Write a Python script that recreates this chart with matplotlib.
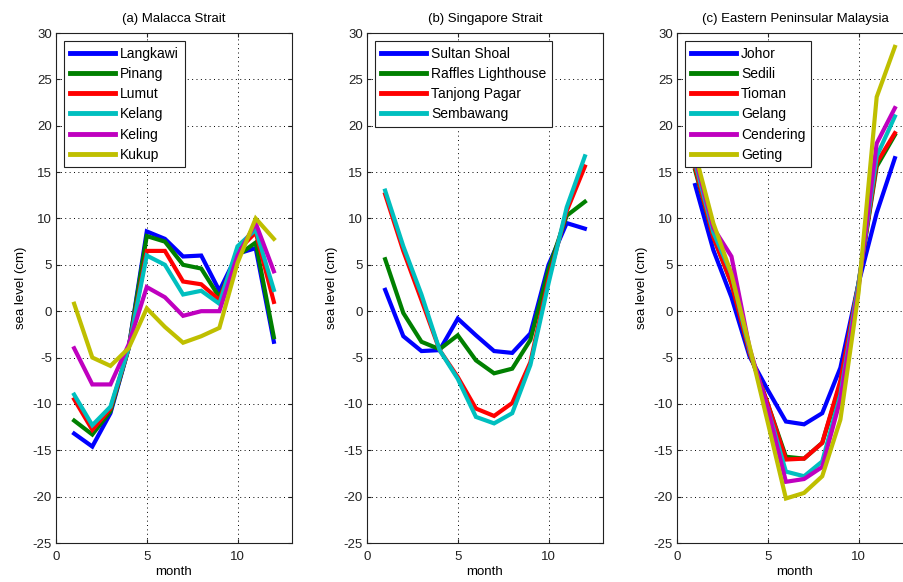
import matplotlib
matplotlib.use("Agg")
import matplotlib.pyplot as plt
import numpy as np

plt.rcParams['font.family'] = ['Liberation Sans', 'DejaVu Sans']
plt.rcParams['axes.unicode_minus'] = False

months = list(range(1, 13))

# (a) Malacca Strait
a_names = ["Langkawi", "Pinang", "Lumut", "Kelang", "Keling", "Kukup"]
langkawi = [-13.2, -14.6, -11.0, -4.0, 8.6, 7.8, 5.9, 6.0, 2.2, 6.2, 6.8, -3.3]
pinang   = [-11.8, -13.3, -10.8, -4.0, 8.1, 7.5, 5.0, 4.6, 1.5, 6.0, 7.4, -2.8]
lumut    = [-9.5, -12.8, -10.5, -4.0, 6.5, 6.5, 3.2, 2.9, 1.2, 6.5, 8.5, 1.0]
kelang   = [-9.0, -12.3, -10.3, -4.0, 6.0, 5.0, 1.8, 2.2, 0.8, 7.0, 8.8, 2.3]
keling   = [-4.0, -7.9, -7.9, -3.6, 2.6, 1.5, -0.5, 0.0, 0.0, 6.0, 9.5, 4.3]
kukup    = [0.8, -5.0, -5.9, -4.0, 0.3, -1.7, -3.4, -2.7, -1.8, 5.2, 10.0, 7.8]

# (b) Singapore Strait
b_names = ["Sultan Shoal", "Raffles Lighthouse", "Tanjong Pagar", "Sembawang"]
sultan_shoal = [2.3, -2.7, -4.3, -4.2, -0.8, -2.6, -4.3, -4.5, -2.4, 5.0, 9.5, 8.9]
raffles      = [5.6, -0.2, -3.3, -4.1, -2.6, -5.3, -6.7, -6.2, -3.1, 4.5, 10.3, 11.8]
tanjong      = [12.6, 6.5, 1.2, -4.2, -7.1, -10.5, -11.3, -9.9, -5.5, 3.5, 10.8, 15.6]
sembawang    = [13.0, 7.0, 1.8, -4.2, -7.3, -11.4, -12.1, -11.0, -5.8, 3.0, 11.2, 16.7]

# (c) Eastern Peninsular Malaysia
c_names = ["Johor", "Sedili", "Tioman", "Gelang", "Cendering", "Geting"]
johor     = [13.6, 6.6, 1.5, -4.9, -8.5, -11.9, -12.2, -11.0, -6.1, 3.0, 10.6, 16.5]
sedili    = [15.2, 8.0, 3.0, -4.5, -10.0, -15.7, -15.9, -14.2, -7.8, 3.0, 15.6, 19.0]
tioman    = [15.5, 8.0, 3.0, -4.5, -10.0, -16.0, -15.9, -14.2, -7.5, 3.0, 16.0, 19.2]
gelang    = [16.0, 8.5, 4.0, -4.2, -10.5, -17.3, -17.8, -16.2, -9.0, 3.0, 16.7, 21.0]
cendering = [16.5, 9.0, 5.9, -4.0, -10.5, -18.4, -18.1, -16.8, -9.5, 2.5, 18.1, 21.9]
geting    = [17.0, 9.5, 4.0, -3.8, -12.0, -20.2, -19.6, -17.8, -11.7, 2.0, 23.1, 28.5]

colors = [(0, 0, 1), (0, 0.5, 0), (1, 0, 0), (0, 0.75, 0.75), (0.75, 0, 0.75), (0.75, 0.75, 0)]

panels = [
    ("(a) Malacca Strait", a_names, [langkawi, pinang, lumut, kelang, keling, kukup], 56),
    ("(b) Singapore Strait", b_names, [sultan_shoal, raffles, tanjong, sembawang], 367),
    ("(c) Eastern Peninsular Malaysia", c_names, [johor, sedili, tioman, gelang, cendering, geting], 677),
]

W, H = 904, 582
fig = plt.figure(figsize=(W / 100, H / 100), dpi=100)
fig.patch.set_facecolor('white')

for title, names, series, left in panels:
    ax = fig.add_axes([left / W, 39 / H, 236 / W, 510 / H])
    for name, vals, col in zip(names, series, colors):
        ax.plot(months, vals, color=col, lw=3.0, label=name, solid_joinstyle='miter')
    ax.set_xlim(0, 13)
    ax.set_ylim(-25, 30)
    ax.set_xticks([0, 5, 10])
    ax.set_yticks(np.arange(-25, 31, 5))
    ax.grid(True, color='black', linestyle=(0, (1, 3.5)), linewidth=0.7)
    ax.tick_params(direction='in', top=True, right=True, labelsize=9.5,
                   length=3, width=0.8, colors='#222222', pad=3)
    ax.tick_params(axis='x', pad=6)
    for sp in ax.spines.values():
        sp.set_color('#222222')
        sp.set_linewidth(0.8)
    ax.set_title(title, fontsize=9.5, pad=8)
    ax.set_xlabel("month", fontsize=9.5, labelpad=2)
    ax.set_ylabel("sea level (cm)", fontsize=9.5, labelpad=4)
    leg = ax.legend(loc='upper left', bbox_to_anchor=(8 / 236, 1 - 8 / 510),
                    borderaxespad=0, fontsize=10, handlelength=3.3,
                    handletextpad=0.35, labelspacing=0.45, borderpad=0.4,
                    fancybox=False, framealpha=1, edgecolor='#222222')
    leg.get_frame().set_linewidth(0.8)
    for line in leg.get_lines():
        line.set_linewidth(3.5)

fig.savefig("out.png", dpi=100)
